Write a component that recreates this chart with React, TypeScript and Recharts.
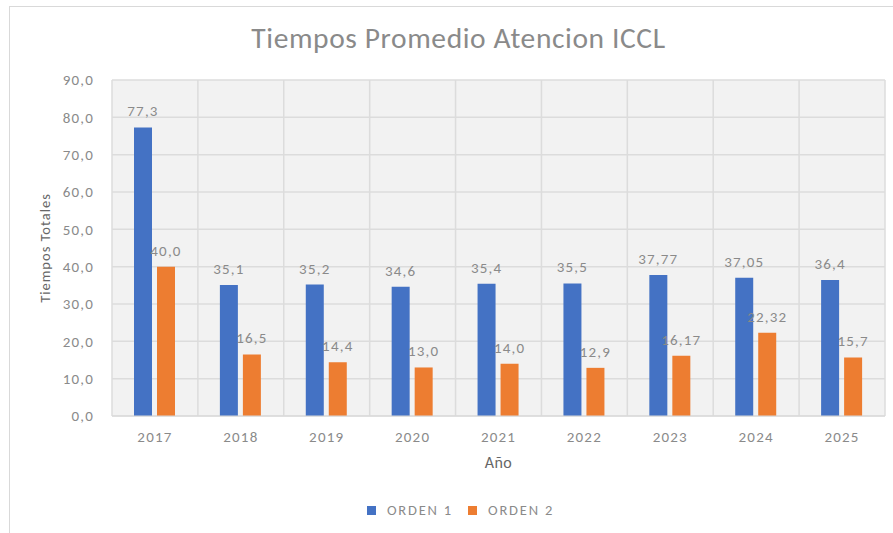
import { Bar, BarChart, CartesianGrid, LabelList, Legend, XAxis, YAxis } from "recharts"

const years = ["2017", "2018", "2019", "2020", "2021", "2022", "2023", "2024", "2025"]
const orden1 = [77.3, 35.1, 35.2, 34.6, 35.4, 35.5, 37.77, 37.05, 36.4]
const orden2 = [40.0, 16.5, 14.4, 13.0, 14.0, 12.9, 16.17, 22.32, 15.7]
const yTicks = [0, 10, 20, 30, 40, 50, 60, 70, 80, 90]

const data = years.map((year, i) => ({ year, orden1: orden1[i], orden2: orden2[i] }))

const font = "Carlito, 'Open Sans', 'Liberation Sans', sans-serif"
const muted = "#8a8a8a"
const small = { fill: muted, fontSize: 15, fontFamily: font, letterSpacing: 1.2 }

function formatComma(value: number): string {
  const tenth = value * 10
  const digits = Math.abs(tenth - Math.round(tenth)) < 1e-6 ? 1 : 2
  return value.toFixed(digits).replace(".", ",")
}

function LegendContent({ payload }: any) {
  return (
    <div style={{ display: "flex", justifyContent: "center", gap: 15, paddingLeft: 36 }}>
      {(payload ?? []).map((item: any) => (
        <div key={item.value} style={{ display: "flex", alignItems: "center", gap: 11 }}>
          <span style={{ width: 9, height: 9, background: item.color, display: "inline-block" }} />
          <span style={{ color: muted, fontSize: 14.5, letterSpacing: 1.8 }}>{item.value}</span>
        </div>
      ))}
    </div>
  )
}

export default function App() {
  return (
    <div style={{ position: "absolute", left: 0, top: 0, width: 893, height: 533, background: "#fff", overflow: "hidden", fontFamily: font }}>
      <div
        style={{
          position: "absolute",
          left: 9,
          top: 6,
          width: 900,
          height: 540,
          border: "1px solid #d9d9d9",
          boxSizing: "border-box",
        }}
      />
      <div
        style={{
          position: "absolute",
          left: 0,
          top: 20,
          width: 917,
          textAlign: "center",
          fontSize: 29.5,
          color: "#8a8a8a",
          letterSpacing: 0.6,
        }}
      >
        Tiempos Promedio Atencion ICCL
      </div>
      <BarChart
        width={893}
        height={533}
        data={data}
        barSize={18}
        barGap={5}
        margin={{ top: 80, right: 8, left: 0, bottom: 39 }}
        style={{ position: "absolute", left: 0, top: 0 }}
      >
        <CartesianGrid
          fill="#f2f2f2"
          stroke="#dcdcdc"
          strokeWidth={1.5}
          verticalCoordinatesGenerator={({ offset }: any) =>
            years.map((_, i) => offset.left + (i * offset.width) / years.length).concat(offset.left + offset.width)
          }
        />
        <XAxis
          dataKey="year"
          height={60}
          tickLine={false}
          axisLine={{ stroke: "#d9d9d9" }}
          tickMargin={9}
          tick={small}
          label={{ value: "Año", position: "insideTop", offset: 41, fill: "#666", fontSize: 16, fontFamily: font, letterSpacing: 0.5 }}
        />
        <YAxis
          width={112}
          domain={[0, 90]}
          ticks={yTicks}
          interval={0}
          tickLine={false}
          axisLine={false}
          tickMargin={12}
          tickFormatter={formatComma}
          tick={small}
          label={{
            value: "Tiempos Totales",
            angle: -90,
            position: "insideLeft",
            offset: 45,
            fill: "#666",
            fontSize: 14.5,
            fontFamily: font,
            letterSpacing: 1,
            style: { textAnchor: "middle" },
          }}
        />
        <Legend verticalAlign="bottom" content={LegendContent} wrapperStyle={{ top: 501, fontFamily: font }} />
        <Bar dataKey="orden1" name="ORDEN 1" fill="#4472c4" isAnimationActive={false}>
          <LabelList
            dataKey="orden1"
            position="top"
            offset={11}
            formatter={(v: any) => formatComma(Number(v))}
            style={small}
          />
        </Bar>
        <Bar dataKey="orden2" name="ORDEN 2" fill="#ed7d31" isAnimationActive={false}>
          <LabelList
            dataKey="orden2"
            position="top"
            offset={11}
            formatter={(v: any) => formatComma(Number(v))}
            style={small}
          />
        </Bar>
      </BarChart>
    </div>
  )
}
